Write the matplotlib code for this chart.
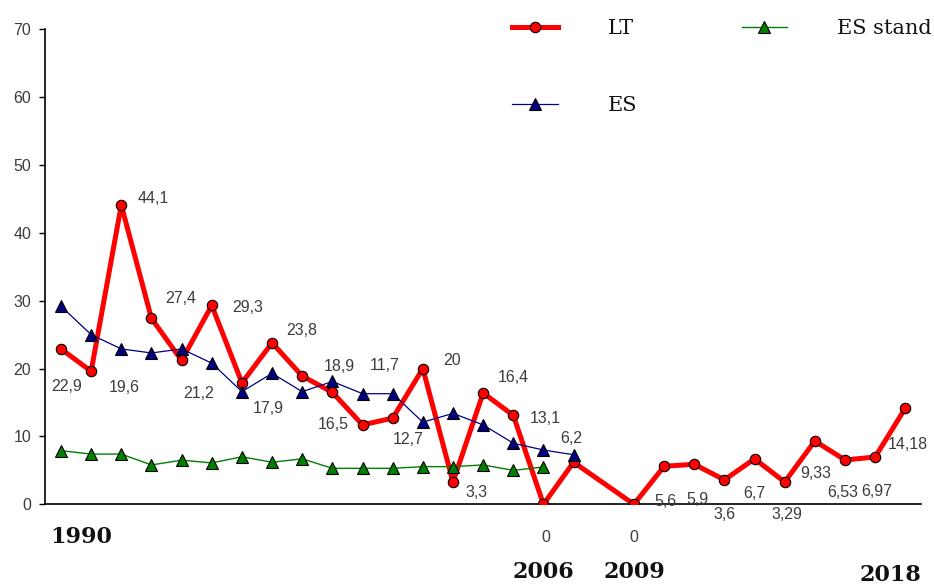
import matplotlib
matplotlib.use("Agg")
import matplotlib.pyplot as plt
from matplotlib.transforms import blended_transform_factory

# ---------------- data ----------------
years = list(range(1990, 2019))
lt = [22.9, 19.6, 44.1, 27.4, 21.2, 29.3, 17.9, 23.8, 18.9, 16.5,
      11.7, 12.7, 20, 3.3, 16.4, 13.1, 0, 6.2, None, 0,
      5.6, 5.9, 3.6, 6.7, 3.29, 9.33, 6.53, 6.97, 14.18]
lt_labels = ["22,9", "19,6", "44,1", "27,4", "21,2", "29,3", "17,9", "23,8", "18,9", "16,5",
             "11,7", "12,7", "20", "3,3", "16,4", "13,1", "0", "6,2", None, "0",
             "5,6", "5,9", "3,6", "6,7", "3,29", "9,33", "6,53", "6,97", "14,18"]
es_years = list(range(1990, 2008))
es = [29.2, 25.0, 22.9, 22.3, 22.9, 20.8, 16.6, 19.3, 16.6, 18.1,
      16.3, 16.3, 12.1, 13.4, 11.7, 9.0, 8.0, 7.3]
es_stand_years = list(range(1990, 2007))
es_stand = [7.9, 7.4, 7.4, 5.8, 6.5, 6.1, 7.0, 6.2, 6.7, 5.3,
            5.3, 5.3, 5.55, 5.55, 5.8, 5.0, 5.5]
year_marks = ["1990", "2006", "2009", "2018"]
y_ticks = [0, 10, 20, 30, 40, 50, 60, 70]

# label offsets in pixels (dx, dy) relative to each LT point
label_offsets = [(6, -38), (33, -16), (32, 7), (29, 20), (17, -33), (36, -2), (26, -26), (30, 12),
                 (37, 10), (1, -32), (22, 59), (16, -21), (29, 8), (24, -11), (30, 16), (32, -3),
                 (2, -33), (-2, 24), None, (0, -33), (1, -35), (3, -35), (0, -35), (0, -35),
                 (2, -33), (1, -33), (-2, -33), (2, -34), (2, -36)]
year_label_pos = {"1990": (20, -33), "2006": (0, -68), "2009": (0, -68), "2018": (-15, -71)}

# ---------------- figure ----------------
fig = plt.figure(figsize=(9.34, 5.88), dpi=100)
ax = fig.add_axes([45 / 934, 1 - 504.3 / 588, (921 - 45) / 934, (504.3 - 29.3) / 588])

lt_x = [y for y, v in zip(years, lt) if v is not None]
lt_y = [v for v in lt if v is not None]

l_lt, = ax.plot(lt_x, lt_y, color="#ff0000", lw=3.6, marker="o", ms=7.5,
                mfc="#ff0000", mec="black", mew=0.8, zorder=3, label="LT")
l_es, = ax.plot(es_years, es, color="#000080", lw=0.9, marker="^", ms=8,
                mfc="#000080", mec="black", mew=0.8, zorder=4, label="ES")
l_st, = ax.plot(es_stand_years, es_stand, color="#008000", lw=1.0, marker="^", ms=8,
                mfc="#008000", mec="black", mew=0.8, zorder=5, label="ES stand")

ax.set_xlim(1989.47, 2018.52)
ax.set_ylim(0, 70)
ax.set_yticks(y_ticks)
ax.set_yticklabels([str(t) for t in y_ticks], family=["Liberation Sans Narrow", "Liberation Sans"],
                   fontsize=11.5, color="#3c3c3c")
ax.set_xticks([])
ax.tick_params(axis="y", length=4, width=1, direction="out", pad=6, color="black")
for s in ["top", "right"]:
    ax.spines[s].set_visible(False)
for s in ["left", "bottom"]:
    ax.spines[s].set_color("black")
    ax.spines[s].set_linewidth(1.2)

# data labels
for y, v, lab, off in zip(years, lt, lt_labels, label_offsets):
    if v is None or lab is None:
        continue
    ax.annotate(lab, (y, v), xytext=off, textcoords="offset pixels",
                ha="center", va="center", fontsize=11.5,
                family=["Liberation Sans Narrow", "Liberation Sans"], color="#3c3c3c", zorder=6)

# year labels under axis
trans = blended_transform_factory(ax.transData, ax.transAxes)
for lab in year_marks:
    yr = int(lab)
    dx, dy = year_label_pos[lab]
    ax.annotate(lab, (yr, 0), xycoords=trans, xytext=(dx, dy), textcoords="offset pixels",
                ha="center", va="center", fontsize=16, fontweight="bold",
                family="DejaVu Serif", color="#111111", annotation_clip=False)

# legend
leg = fig.legend(handles=[l_lt, l_es, l_st], labels=["LT", "ES", "ES stand"],
                 loc="upper left", bbox_to_anchor=(512 / 934, 1 - 19 / 588),
                 ncol=2, frameon=False, borderpad=0, borderaxespad=0,
                 handlelength=2.2, handletextpad=2.4, columnspacing=5.0,
                 labelspacing=2.8, prop={"family": "DejaVu Serif", "size": 15})
for t in leg.get_texts():
    t.set_color("#111111")

fig.savefig("out.png", dpi=100)
